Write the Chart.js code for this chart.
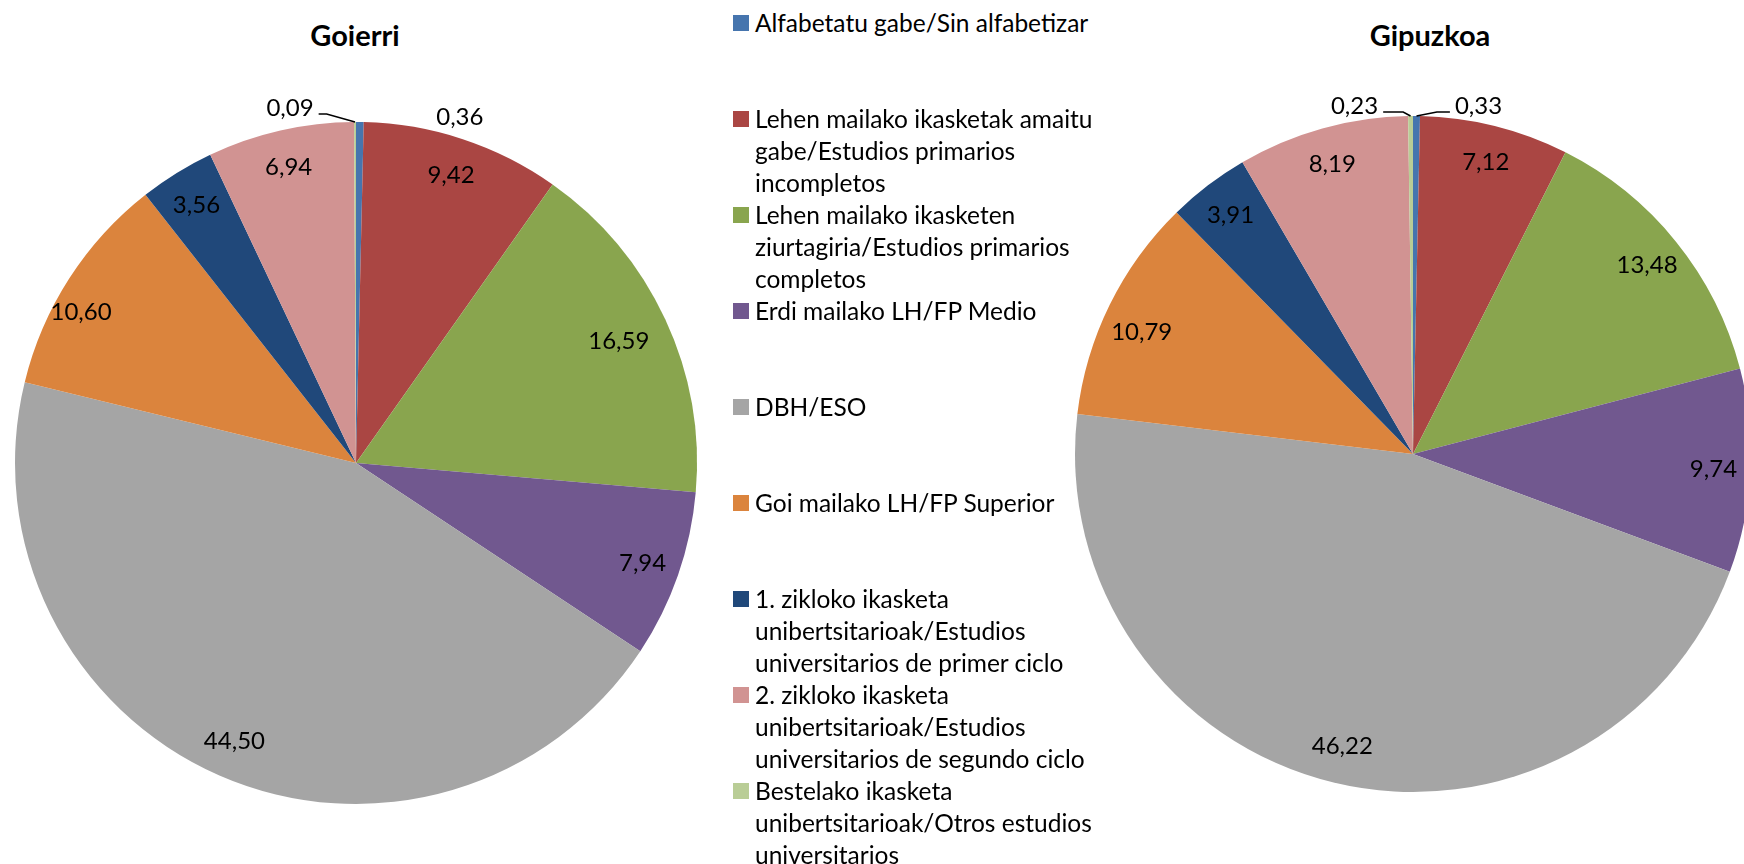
<!DOCTYPE html>
<html>
<head>
<meta charset="utf-8">
<script src="https://cdn.jsdelivr.net/npm/chart.js@4.4.1/dist/chart.umd.min.js"></script>
<style>
  html, body { margin: 0; padding: 0; width: 1744px; height: 864px; overflow: hidden; background: #fff; font-family: Lato, sans-serif; color: #000; }
  .chart-box { position: absolute; }
  .title { position: absolute; top: 17px; font-weight: bold; font-size: 29px; transform: translateX(-50%); white-space: nowrap; }
  #legend { position: absolute; left: 733px; top: 0; }
  .item { position: absolute; left: 0; font-size: 24.5px; line-height: 32px; }
  .item .box { position: absolute; left: 0; top: 8px; width: 16px; height: 16px; }
  .item .txt { margin-left: 22px; width: 356px; }
</style>
</head>
<body>
<div class="chart-box" style="left:-45px; top:62px;"><canvas id="goierri" width="802" height="802"></canvas></div>
<div class="chart-box" style="left:1015px; top:56px;"><canvas id="gipuzkoa" width="796" height="796"></canvas></div>
<div class="title" style="left:355px;">Goierri</div>
<div class="title" style="left:1430px;">Gipuzkoa</div>
<div id="legend"></div>
<script>
const categories = [
    'Alfabetatu gabe/Sin alfabetizar',
    'Lehen mailako ikasketak amaitu gabe/Estudios primarios incompletos',
    'Lehen mailako ikasketen ziurtagiria/Estudios primarios completos',
    'Erdi mailako LH/FP Medio',
    'DBH/ESO',
    'Goi mailako LH/FP Superior',
    '1. zikloko ikasketa unibertsitarioak/Estudios universitarios de primer ciclo',
    '2. zikloko ikasketa unibertsitarioak/Estudios universitarios de segundo ciclo',
    'Bestelako ikasketa unibertsitarioak/Otros estudios universitarios'
]
const goierriValues = [0.36, 9.42, 16.59, 7.94, 44.50, 10.60, 3.56, 6.94, 0.09]
const gipuzkoaValues = [0.33, 7.12, 13.48, 9.74, 46.22, 10.79, 3.91, 8.19, 0.23]

const colors = ['#4675AE', '#AA4643', '#89A54E', '#71588F', '#A5A5A5', '#DB843D', '#20487A', '#D19392', '#B9CD96']

// value labels: inside near the rim, tiny slices pushed outside with a leader line
const sliceLabels = {
    id: 'sliceLabels',
    afterDatasetsDraw(chart, args, opts) {
        const ctx = chart.ctx
        const meta = chart.getDatasetMeta(0)
        const values = chart.data.datasets[0].data
        ctx.save()
        ctx.font = '24px Lato'
        ctx.fillStyle = '#000'
        ctx.textAlign = 'center'
        ctx.textBaseline = 'middle'
        meta.data.forEach((arc, i) => {
            const mid = (arc.startAngle + arc.endAngle) / 2
            const text = values[i].toFixed(2).replace('.', ',')
            const out = opts.outside[i]
            if (!out) {
                // excel's best fit moves a few labels a little
                const n = opts.nudge[i] || {}
                const a = mid + (n.da || 0) * Math.PI / 180
                const rr = arc.outerRadius * (n.r || 0.89)
                ctx.fillText(text, arc.x + Math.cos(a) * rr, arc.y + Math.sin(a) * rr)
                return
            }
            const px = arc.x + Math.cos(mid) * arc.outerRadius
            const py = arc.y + Math.sin(mid) * arc.outerRadius
            const lx = px + out.dx
            const ly = py + out.dy
            ctx.fillText(text, lx, ly)
            if (out.leader) {
                const w = ctx.measureText(text).width
                const side = out.dx < 0 ? 1 : -1
                const x0 = lx + side * (w / 2 + 5)
                const y0 = ly + 6
                ctx.beginPath()
                ctx.moveTo(x0, y0)
                ctx.lineTo(x0 + side * out.leader, y0)
                ctx.lineTo(px, py)
                ctx.strokeStyle = '#000'
                ctx.lineWidth = 1.5
                ctx.stroke()
            }
        })
        ctx.restore()
    }
}

function makePie(id, values, outside, nudge) {
    return new Chart(document.getElementById(id), {
        type: 'pie',
        data: {
            labels: categories,
            datasets: [{
                data: values,
                backgroundColor: colors,
                borderWidth: 0,
                hoverBorderWidth: 0,
                hoverOffset: 0
            }]
        },
        options: {
            responsive: false,
            animation: false,
            layout: {padding: 60},
            plugins: {
                legend: {display: false},
                tooltip: {enabled: false},
                sliceLabels: {outside: outside, nudge: nudge}
            }
        },
        plugins: [sliceLabels]
    })
}

makePie('goierri', goierriValues, {
    0: {dx: 100, dy: -5},
    8: {dx: -65, dy: -14, leader: 8}
}, {
    2: {r: 0.85},
    5: {r: 0.92, da: -4}
})
makePie('gipuzkoa', gipuzkoaValues, {
    0: {dx: 62, dy: -10, leader: 13},
    8: {dx: -56, dy: -10, leader: 20}
}, {
    5: {r: 0.88, da: -2}
})

// legend in the middle column, one entry every 96px
const legend = document.getElementById('legend')
categories.forEach((name, i) => {
    const item = document.createElement('div')
    item.className = 'item'
    item.style.top = (7 + 96 * i) + 'px'
    item.innerHTML = `<span class="box" style="background:${colors[i]}"></span><div class="txt"></div>`
    item.querySelector('.txt').textContent = name
    legend.appendChild(item)
})
</script>
</body>
</html>
